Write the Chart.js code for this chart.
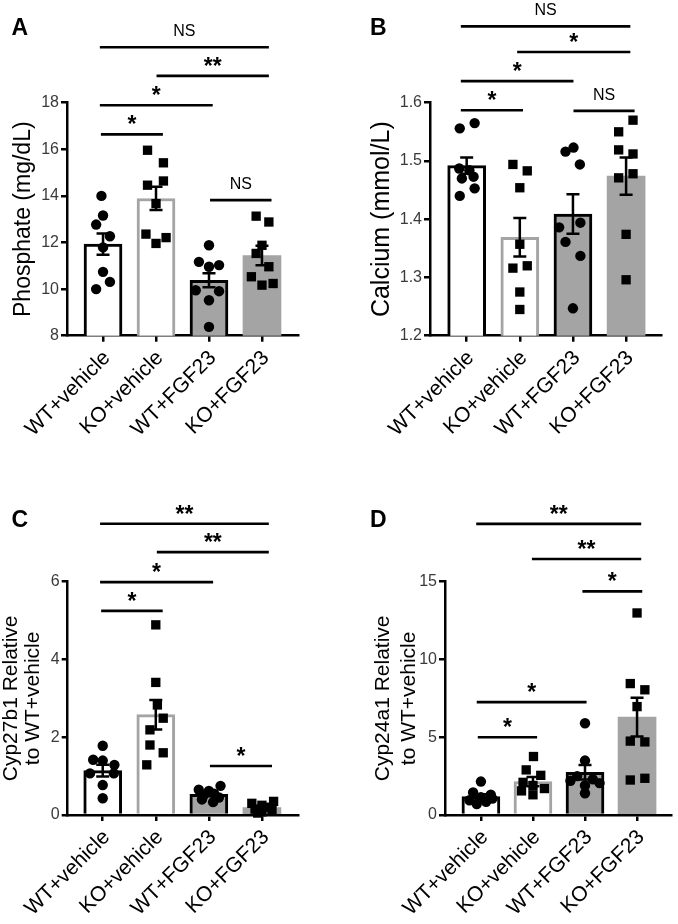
<!DOCTYPE html>
<html>
<head>
<meta charset="utf-8">
<script src="https://cdn.jsdelivr.net/npm/chart.js@4"></script>
<style>
  html, body { margin: 0; padding: 0; background: #fff; }
  #wrap { position: relative; width: 678px; height: 924px; overflow: hidden; }
  #wrap canvas { position: absolute; }
</style>
</head>
<body>
<div id="wrap">
  <canvas id="cA" width="339" height="462" style="left:0;top:0"></canvas>
  <canvas id="cB" width="339" height="462" style="left:339px;top:0"></canvas>
  <canvas id="cC" width="339" height="462" style="left:0;top:462px"></canvas>
  <canvas id="cD" width="339" height="462" style="left:339px;top:462px"></canvas>
</div>
<script>
const groups = ['WT+vehicle', 'KO+vehicle', 'WT+FGF23', 'KO+FGF23'];

// A - phosphate
const phosTicks = [8, 10, 12, 14, 16, 18];
const phosMean = [11.93, 13.89, 10.38, 11.44];
const phosSem = [0.46, 0.5, 0.3, 0.42];
const phosPts = [
    [14.0, 13.16, 12.77, 12.27, 11.79, 10.74, 10.31, 10.0],
    [15.96, 15.42, 14.64, 14.46, 13.67, 12.36, 12.21, 11.96],
    [11.88, 11.17, 11.03, 10.96, 9.95, 9.91, 9.52, 8.38],
    [13.13, 12.88, 11.88, 11.53, 10.96, 10.53, 10.24, 10.17]
];
const phosJit = [
    [-0.03, 0, -0.13, 0.13, 0, 0, 0.13, -0.13],
    [-0.16, 0.14, 0.14, -0.16, 0, -0.19, 0.19, 0],
    [0, -0.19, 0.19, 0, -0.25, 0.19, 0, 0],
    [-0.11, 0.13, 0, -0.11, 0.13, -0.2, 0.21, 0]
];
const phosSig = [
    [-0.06, 3.13, 20.38, 'NS'],
    [1.01, 3.13, 19.15, '**'],
    [-0.06, 2.07, 17.89, '*'],
    [-0.04, 1.13, 16.64, '*'],
    [2.02, 3.18, 13.82, 'NS']
];

// B - calcium
const calTicks = [1.2, 1.3, 1.4, 1.5, 1.6];
const calMean = [1.492, 1.369, 1.409, 1.474];
const calSem = [0.014, 0.033, 0.034, 0.032];
const calPts = [
    [1.556, 1.565, 1.487, 1.484, 1.470, 1.473, 1.453, 1.440],
    [1.494, 1.483, 1.454, 1.357, 1.316, 1.320, 1.275, 1.245],
    [1.516, 1.523, 1.494, 1.386, 1.394, 1.361, 1.337, 1.247],
    [1.570, 1.550, 1.519, 1.512, 1.471, 1.478, 1.374, 1.296]
];
const calJit = [
    [-0.13, 0.15, -0.14, 0.05, -0.09, 0.13, 0.15, -0.13],
    [-0.13, 0.14, 0, 0, -0.13, 0.14, 0, 0],
    [-0.14, 0.01, 0.13, -0.26, 0.14, -0.14, 0.14, 0],
    [0.13, -0.14, -0.14, 0.13, -0.14, 0.13, 0, 0]
];
const calSig = [
    [-0.11, 3.08, 1.731, 'NS'],
    [0.95, 3.08, 1.687, '*'],
    [-0.11, 2.01, 1.637, '*'],
    [-0.11, 1.06, 1.587, '*'],
    [2.01, 3.16, 1.586, 'NS']
];

// C - Cyp27b1
const c27Ticks = [0, 2, 4, 6];
const c27Mean = [1.14, 2.58, 0.53, 0.19];
const c27Sem = [0.15, 0.38, 0.05, 0.04];
const c27Pts = [
    [1.78, 1.42, 1.40, 1.29, 1.07, 1.07, 0.77, 0.43],
    [4.89, 3.41, 2.83, 2.49, 2.19, 1.80, 1.60, 1.29],
    [0.75, 0.65, 0.62, 0.55, 0.50, 0.45, 0.40, 0.33],
    [0.35, 0.30, 0.25, 0.20, 0.15, 0.12, 0.08, 0.05]
];
const c27Jit = [
    [0, -0.18, 0, 0.22, -0.24, 0.21, 0, 0],
    [0, 0, 0.03, 0.14, -0.11, -0.11, 0.14, -0.17],
    [0.22, -0.19, 0, 0.1, -0.1, 0.19, -0.13, 0.08],
    [0.22, -0.19, 0, 0.1, -0.13, 0.19, 0, -0.08]
];
const c27Sig = [
    [-0.05, 3.13, 7.49, '**'],
    [1.02, 3.13, 6.76, '**'],
    [-0.05, 2.08, 5.99, '*'],
    [-0.03, 1.13, 5.25, '*'],
    [2.02, 3.19, 1.26, '*']
];

// D - Cyp24a1
const c24Ticks = [0, 5, 10, 15];
const c24Mean = [1.18, 2.15, 2.75, 6.29];
const c24Sem = [0.15, 0.3, 0.47, 1.25];
const c24Pts = [
    [2.15, 1.45, 1.3, 1.15, 1.05, 0.95, 0.85, 0.7],
    [3.76, 2.9, 2.55, 2.1, 1.9, 1.7, 1.55, 1.3],
    [5.9, 3.5, 2.5, 2.3, 2.2, 2.05, 1.9, 1.4],
    [12.99, 8.45, 8.05, 6.97, 4.75, 4.7, 2.36, 2.25]
];
const c24Jit = [
    [0, -0.15, 0.19, 0, 0.22, -0.22, 0.1, -0.08],
    [0.01, -0.13, 0.15, -0.19, 0, 0.22, -0.22, 0],
    [0, 0, -0.15, 0.15, -0.28, 0.28, 0, 0],
    [0, -0.13, 0.15, 0, -0.13, 0.15, 0.15, -0.13]
];
const c24Sig = [
    [-0.09, 3.08, 18.72, '**'],
    [0.98, 3.08, 16.46, '**'],
    [1.95, 3.10, 14.38, '*'],
    [-0.08, 2.03, 7.26, '*'],
    [-0.06, 1.08, 5.0, '*']
];

const FONT = "'Liberation Sans', Arial, Helvetica, sans-serif";
const GRAY = '#a4a4a4';

// error bars, significance lines, panel letter
function extras(mean, sem, sig, letter) {
    return {
        id: 'extras',
        afterDatasetsDraw(chart) {
            const {ctx, scales: {x, y}} = chart;
            ctx.save();
            ctx.strokeStyle = '#000';
            ctx.lineWidth = 2.5;
            mean.forEach((m, i) => {
                const px = x.getPixelForValue(i);
                const top = y.getPixelForValue(m + sem[i]);
                const bot = y.getPixelForValue(Math.max(m - sem[i], y.min));
                ctx.beginPath();
                ctx.moveTo(px, top); ctx.lineTo(px, bot);
                ctx.moveTo(px - 6.5, top); ctx.lineTo(px + 6.5, top);
                if (m - sem[i] > y.min) { ctx.moveTo(px - 6.5, bot); ctx.lineTo(px + 6.5, bot); }
                ctx.stroke();
            });
            ctx.restore();
        },
        afterDraw(chart) {
            const {ctx, scales: {x, y}} = chart;
            ctx.save();
            ctx.strokeStyle = '#000';
            ctx.fillStyle = '#000';
            ctx.lineWidth = 2.6;
            ctx.textAlign = 'center';
            ctx.textBaseline = 'alphabetic';
            sig.forEach(([a, b, v, txt]) => {
                const x1 = x.getPixelForValue(a), x2 = x.getPixelForValue(b);
                const py = y.getPixelForValue(v);
                ctx.beginPath();
                ctx.moveTo(x1, py); ctx.lineTo(x2, py);
                ctx.stroke();
                if (txt === 'NS') {
                    ctx.font = '16px ' + FONT;
                    ctx.fillText(txt, (x1 + x2) / 2, py - 11);
                } else {
                    ctx.font = 'bold 23px ' + FONT;
                    ctx.fillText(txt, (x1 + x2) / 2, py - 2);
                }
            });
            ctx.font = 'bold 23px ' + FONT;
            ctx.textAlign = 'left';
            ctx.fillText(letter.t, letter.x, letter.y);
            ctx.restore();
        }
    };
}

function makePanel(id, cfg) {
    const ds = [{
        type: 'bar',
        order: 1,
        data: cfg.mean.map((m, i) => ({x: i, y: m})),
        backgroundColor: ['#fff', '#fff', GRAY, GRAY],
        borderColor: ['#000', GRAY, '#000', GRAY],
        borderWidth: [3, 3, 3, 0],
        borderSkipped: 'start',
        barThickness: 38
    }];
    cfg.pts.forEach((vals, g) => {
        ds.push({
            type: 'scatter',
            order: 0,
            clip: false,
            data: vals.map((v, k) => ({x: g + cfg.jit[g][k], y: v})),
            pointStyle: g % 2 === 0 ? 'circle' : 'rect',
            pointRadius: g % 2 === 0 ? 5.2 : 6.6,
            backgroundColor: '#000',
            borderWidth: 0
        });
    });

    new Chart(document.getElementById(id), {
        type: 'bar',
        data: { datasets: ds },
        options: {
            responsive: false,
            animation: false,
            events: [],
            layout: { padding: { top: cfg.padTop, right: cfg.padRight, left: 0, bottom: 0 } },
            plugins: { legend: { display: false }, tooltip: { enabled: false } },
            scales: {
                x: {
                    type: 'linear', min: cfg.xMin, max: cfg.xMax, offset: false,
                    afterBuildTicks: s => { s.ticks = groups.map((g, i) => ({ value: i })); },
                    afterFit: s => { s.height = cfg.xH; s.paddingLeft = 0; s.paddingRight = 0; },
                    grid: { display: true, offset: false, drawOnChartArea: false, drawTicks: true, tickLength: 6, color: '#000', lineWidth: 2.5 },
                    border: { display: true, color: '#000', width: 2.5 },
                    ticks: {
                        autoSkip: false, maxRotation: 45, minRotation: 45, padding: 4, labelOffset: 4,
                        color: '#000', font: { family: FONT, size: 21 },
                        callback: v => groups[v]
                    }
                },
                y: {
                    type: 'linear', min: cfg.ticks[0], max: cfg.ticks[cfg.ticks.length - 1],
                    afterBuildTicks: s => { s.ticks = cfg.ticks.map(v => ({ value: v })); },
                    afterFit: s => { s.width = cfg.yW; s.paddingTop = 0; s.paddingBottom = 0; },
                    grid: { display: true, drawOnChartArea: false, drawTicks: true, tickLength: 6, color: '#000', lineWidth: 2.5 },
                    border: { display: true, color: '#000', width: 2.5 },
                    ticks: {
                        padding: 2, color: '#3a3a3a', font: { family: FONT, size: 16 },
                        callback: v => cfg.dec ? v.toFixed(cfg.dec) : String(v)
                    },
                    title: {
                        display: true, text: cfg.title, color: '#000',
                        font: { family: FONT, size: cfg.titleSize, lineHeight: cfg.titleLH },
                        padding: { top: cfg.titlePad, bottom: 0 }
                    }
                }
            }
        },
        plugins: [extras(cfg.mean, cfg.sem, cfg.sig, cfg.letter)]
    });
}

makePanel('cA', {
    mean: phosMean, sem: phosSem, pts: phosPts, jit: phosJit, sig: phosSig, ticks: phosTicks,
    xMin: -0.68, xMax: 3.68, yW: 67, xH: 126.3, padTop: 102.7, padRight: 41,
    title: 'Phosphate (mg/dL)', titleSize: 23, titleLH: 1.2, titlePad: 10,
    letter: { t: 'A', x: 11.5, y: 35 }
});
makePanel('cB', {
    mean: calMean, sem: calSem, pts: calPts, jit: calJit, sig: calSig, ticks: calTicks, dec: 1,
    xMin: -0.69, xMax: 3.67, yW: 91, xH: 126.3, padTop: 102.7, padRight: 16.3,
    title: 'Calcium (mmol/L)', titleSize: 25, titleLH: 1.2, titlePad: 28,
    letter: { t: 'B', x: 31, y: 35 }
});
makePanel('cC', {
    mean: c27Mean, sem: c27Sem, pts: c27Pts, jit: c27Jit, sig: c27Sig, ticks: c27Ticks,
    xMin: -0.66, xMax: 3.68, yW: 67.7, xH: 109, padTop: 119.7, padRight: 41,
    title: ['Cyp27b1 Relative', 'to WT+vehicle'], titleSize: 21, titleLH: 1.05, titlePad: 0,
    letter: { t: 'C', x: 11.5, y: 65 }
});
makePanel('cD', {
    mean: c24Mean, sem: c24Sem, pts: c24Pts, jit: c24Jit, sig: c24Sig, ticks: c24Ticks,
    xMin: -0.69, xMax: 3.66, yW: 106, xH: 109, padTop: 119.7, padRight: 1.3,
    title: ['Cyp24a1 Relative', 'to WT+vehicle'], titleSize: 21, titleLH: 1.25, titlePad: 31,
    letter: { t: 'D', x: 31, y: 65 }
});
</script>
</body>
</html>
